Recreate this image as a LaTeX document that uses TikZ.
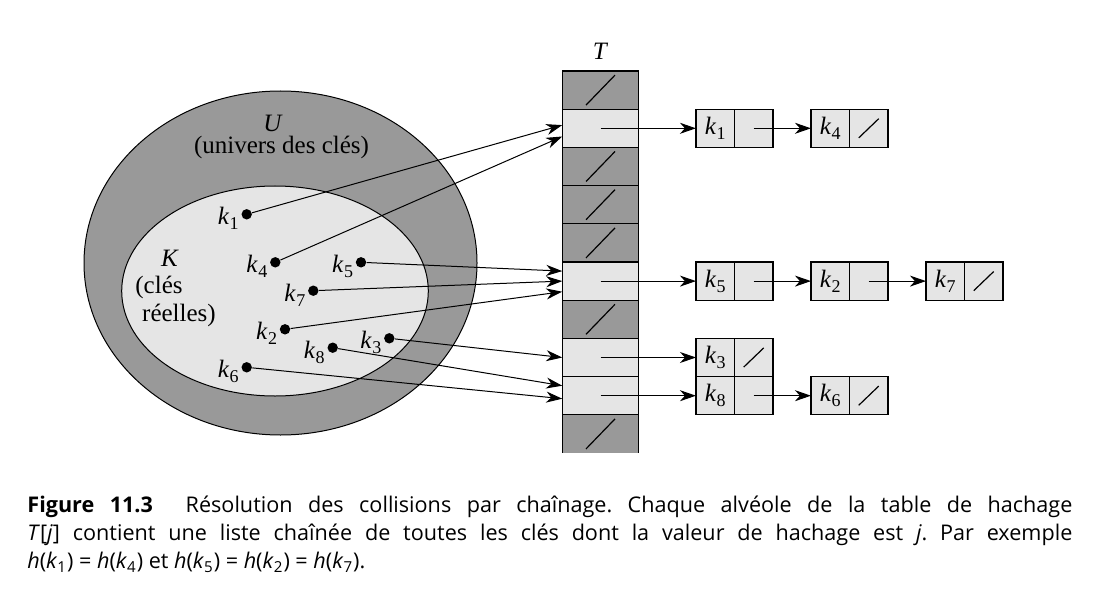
\documentclass[tikz,border=0pt]{standalone}
\usepackage{fontspec}
\setmainfont{Liberation Serif}
\newfontfamily\legende{Open Sans}
\usetikzlibrary{positioning}
\usetikzlibrary{arrows.meta}
\newcommand{\kk}[1]{\textit{k}\kern0.2pt\raisebox{-2.6pt}{\fontsize{9}{9}\selectfont #1}}
\newcommand{\hk}[1]{\textit{h}(\textit{k}\textsubscript{#1})}
\tikzset{
	alveole/.style={draw, rectangle, inner sep=0pt, outer sep=0pt, minimum width=38.25pt, minimum height=19.1pt, fill=black!10, line width=0.6pt},
	% alveole vide de la table
	vide/.style={fill=black!40, path picture={\draw[line width=0.6pt] ([shift={(-7.25pt,-7.5pt)}]path picture bounding box.center) -- ([shift={(7.25pt,7.5pt)}]path picture bounding box.center);}},
	cellule/.style={draw, rectangle, inner sep=0pt, outer sep=0pt, minimum width=19.25pt, minimum height=19.1pt, fill=black!10, line width=0.6pt},
	nil/.style={path picture={\draw[line width=0.6pt] ([shift={(-5pt,-4.8pt)}]path picture bounding box.center) -- ([shift={(5pt,4.8pt)}]path picture bounding box.center);}},
	cle/.style={circle, fill, inner sep=0pt, minimum size=5.2pt},
	etiquette/.style={inner sep=0pt},
}

\begin{document}
\begin{tikzpicture}[x=0.5pt, y=-0.5pt, font=\fontsize{12.5}{15}\selectfont]
	\useasboundingbox (0,0) rectangle (1095,588);
	
	% univers et cles reelles
	\draw[line width=0.5pt, fill=black!40] (280.5,263) ellipse [x radius=98.25pt, y radius=86pt];
	\draw[line width=0.5pt, fill=black!10] (275,291) ellipse [x radius=76.65pt, y radius=52.5pt];
	
	\node (nomU) [etiquette] at (273,123) {\textit{U}};
	\node (texteU) [etiquette] at (281.5,147.5) {(univers des clés)};
	\node (nomK) [etiquette] at (170,258) {\textit{K}};
	\node (texteK1) [etiquette] at (159,287) {(clés};
	\node (texteK2) [etiquette] at (179,315) {réelles)};
	
	\node (d1) [cle] at (246.7,214.3) {};
	\node (d4) [cle] at (275.3,262.3) {};
	\node (d5) [cle] at (361,262.3) {};
	\node (d7) [cle] at (313.3,290.7) {};
	\node (d2) [cle] at (285,329.3) {};
	\node (d3) [cle] at (389.3,338.3) {};
	\node (d8) [cle] at (332.7,347.7) {};
	\node (d6) [cle] at (246.7,367.3) {};
	
	\node (e1) [etiquette, below left=-5.7pt and 1.8pt of d1] {\kk{1}};
	\node (e4) [etiquette, below left=-5.7pt and 1.8pt of d4] {\kk{4}};
	\node (e5) [etiquette, below left=-5.7pt and 1.8pt of d5] {\kk{5}};
	\node (e7) [etiquette, below left=-5.7pt and 1.8pt of d7] {\kk{7}};
	\node (e2) [etiquette, below left=-5.7pt and 1.8pt of d2] {\kk{2}};
	\node (e3) [etiquette, below left=-5.7pt and 1.8pt of d3] {\kk{3}};
	\node (e8) [etiquette, below left=-5.7pt and 1.8pt of d8] {\kk{8}};
	\node (e6) [etiquette, below left=-5.7pt and 1.8pt of d6] {\kk{6}};
	
	% table T
	\node (t0) [alveole, vide] at (600.5,90.1) {};
	\node (t1) [alveole, below=0pt of t0] {};
	\node (t2) [alveole, vide, below=0pt of t1] {};
	\node (t3) [alveole, vide, below=0pt of t2] {};
	\node (t4) [alveole, vide, below=0pt of t3] {};
	\node (t5) [alveole, below=0pt of t4] {};
	\node (t6) [alveole, vide, below=0pt of t5] {};
	\node (t7) [alveole, below=0pt of t6] {};
	\node (t8) [alveole, below=0pt of t7] {};
	\node (t9) [alveole, vide, draw=none, below=0pt of t8] {};
	\draw[line width=0.6pt] (t9.north west) -- (t9.south west) (t9.north east) -- (t9.south east);
	\node (nomT) [etiquette, above=5.5pt of t0] {\textit{T}};
	
	% listes chainees
	\node (c1) [cellule, right=28.6pt of t1] {\kk{1}};
	\node (p1) [cellule, right=0pt of c1] {};
	\node (c4) [cellule, right=19pt of p1] {\kk{4}};
	\node (p4) [cellule, nil, right=0pt of c4] {};
	
	\node (c5) [cellule, right=28.6pt of t5] {\kk{5}};
	\node (p5) [cellule, right=0pt of c5] {};
	\node (c2) [cellule, right=19pt of p5] {\kk{2}};
	\node (p2) [cellule, right=0pt of c2] {};
	\node (c7) [cellule, right=19pt of p2] {\kk{7}};
	\node (p7) [cellule, nil, right=0pt of c7] {};
	
	\node (c3) [cellule, right=28.6pt of t7] {\kk{3}};
	\node (p3) [cellule, nil, right=0pt of c3] {};
	
	\node (c8) [cellule, right=28.6pt of t8] {\kk{8}};
	\node (p8) [cellule, right=0pt of c8] {};
	\node (c6) [cellule, right=19pt of p8] {\kk{6}};
	\node (p6) [cellule, nil, right=0pt of c6] {};
	
	\begin{scope}[line width=0.5pt, black, ->, >={Stealth[length=8pt, width=5.5pt, inset=2.5pt]}]
		\draw (d1) -- ([yshift=1.6pt]t1.west);
		\draw (d4) -- ([yshift=-4.1pt]t1.west);
		\draw (d5) -- ([yshift=5pt]t5.west);
		\draw (d7) -- (t5.west);
		\draw (d2) -- ([yshift=-5.3pt]t5.west);
		\draw (d3) -- (t7.west);
		\draw (d8) -- ([yshift=5pt]t8.west);
		\draw (d6) -- ([yshift=-1.5pt]t8.west);
		
		\draw (t1.center) -- (c1);
		\draw (p1.center) -- (c4);
		
		\draw (t5.center) -- (c5);
		\draw (p5.center) -- (c2);
		\draw (p2.center) -- (c7);
		
		\draw (t7.center) -- (c3);
		
		\draw (t8.center) -- (c8);
		\draw (p8.center) -- (c6);
	\end{scope}
	
	\node (legende) [anchor=north west, text width=522.5pt, align=justify, inner sep=0pt, font=\legende\fontsize{10.8}{14}\selectfont\frenchspacing] at (27,496) {\textbf{Figure 11.3}\hspace{0.8em} Résolution des collisions par chaînage. Chaque alvéole de la table de hachage\linebreak \textit{T}[\textit{j}] contient une liste chaînée de toutes les clés dont la valeur de hachage est \textit{j}. Par exemple\linebreak \hk{1} = \hk{4} et \hk{5} = \hk{2} = \hk{7}.};
	
\end{tikzpicture}
\end{document}
